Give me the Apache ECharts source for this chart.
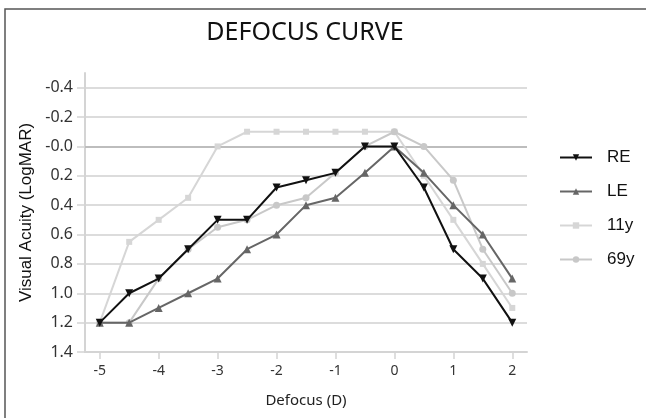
<!DOCTYPE html>
<html>
<head>
<meta charset="utf-8">
<script src="https://cdn.jsdelivr.net/npm/echarts@6/dist/echarts.min.js"></script>
<style>html,body{margin:0;padding:0;background:#fff;}#c{width:646px;height:418px;}</style>
</head>
<body>
<div id="c"></div>
<script>
const defocus = [-5, -4.5, -4, -3.5, -3, -2.5, -2, -1.5, -1, -0.5, 0, 0.5, 1, 1.5, 2];
const RE  = [1.2, 1.0, 0.9, 0.7, 0.5, 0.5, 0.28, 0.23, 0.18, 0.0, 0.0, 0.28, 0.7, 0.9, 1.2];
const LE  = [1.2, 1.2, 1.1, 1.0, 0.9, 0.7, 0.6, 0.4, 0.35, 0.18, 0.0, 0.18, 0.4, 0.6, 0.9];
const y11 = [1.2, 0.65, 0.5, 0.35, 0.0, -0.1, -0.1, -0.1, -0.1, -0.1, -0.1, 0.2, 0.5, 0.8, 1.1];
const y69 = [1.2, 1.2, 0.9, 0.7, 0.55, 0.5, 0.4, 0.35, 0.18, 0.0, -0.1, 0.0, 0.23, 0.7, 1.0];
const xTickValues = [-5, -4, -3, -2, -1, 0, 1, 2];
const yTickValues = [-0.4, -0.2, 0, 0.2, 0.4, 0.6, 0.8, 1.0, 1.2, 1.4];
const yTickLabels = ['-0.4', '-0.2', '-0.0', '0.2', '0.4', '0.6', '0.8', '1.0', '1.2', '1.4'];
const seriesNames = ['RE', 'LE', '11y', '69y'];

function pairs(vals) { return defocus.map((x, i) => [x, vals[i]]); }

const chart = echarts.init(document.getElementById('c'), null, {renderer: 'canvas'});
chart.setOption({
  animation: false,
  backgroundColor: '#fff',
  title: {
    text: 'DEFOCUS CURVE', left: 300, top: 15, textAlign: 'center',
    textStyle: {fontFamily: 'Noto Sans', fontSize: 25, fontWeight: 'normal', color: '#111'}
  },
  graphic: [{
    type: 'rect', shape: {x: 5, y: 9, width: 800, height: 600},
    style: {fill: 'none', stroke: '#555', lineWidth: 1.5}, silent: true, z: 100
  }],
  legend: {
    data: seriesNames, orient: 'vertical', left: 554, top: 144,
    itemWidth: 32, itemHeight: 8, itemGap: 17,
    textStyle: {fontFamily: 'Liberation Sans', fontSize: 17, color: '#111', padding: [0, 0, 0, 10]}
  },
  grid: {left: 85, right: 119, top: 73, bottom: 66},
  xAxis: {
    type: 'value', min: -5.25, max: 2.25,
    name: 'Defocus (D)', nameLocation: 'middle', nameGap: 41,
    nameTextStyle: {fontFamily: 'Noto Sans', fontSize: 15, color: '#222'},
    axisLine: {onZero: false, lineStyle: {color: '#d4d4d4', width: 2}},
    axisTick: {show: true, customValues: xTickValues, length: 7, lineStyle: {color: '#d4d4d4', width: 1.5}},
    axisLabel: {customValues: xTickValues, fontFamily: 'Noto Sans', fontSize: 14, color: '#333', margin: 12},
    splitLine: {show: false}
  },
  yAxis: {
    type: 'value', min: -0.5, max: 1.4, inverse: true,
    name: 'Visual Acuity (LogMAR)', nameLocation: 'middle', nameGap: 45,
    nameTextStyle: {fontFamily: 'Liberation Sans', fontSize: 17, color: '#111'},
    axisLine: {show: true, onZero: false, lineStyle: {color: '#d4d4d4', width: 2}},
    axisTick: {show: true, customValues: yTickValues, length: 8, lineStyle: {color: '#d4d4d4', width: 1.5}},
    axisLabel: {
      customValues: yTickValues, fontFamily: 'Noto Sans', fontSize: 16, color: '#333', margin: 12,
      formatter: v => { const i = yTickValues.findIndex(t => Math.abs(t - v) < 1e-6); return i >= 0 ? yTickLabels[i] : ''; }
    },
    splitLine: {show: true, lineStyle: {color: '#dcdcdc', width: 2}}
  },
  series: [
    {
      name: 'RE', type: 'line', data: pairs(RE), z: 6,
      symbol: 'triangle', symbolRotate: 180, symbolSize: 8,
      lineStyle: {color: '#111', width: 2}, itemStyle: {color: '#111'},
      markLine: {silent: true, symbol: 'none', label: {show: false},
        lineStyle: {color: '#bdbdbd', width: 2, type: 'solid'}, data: [{yAxis: 0}], z: 1}
    },
    {
      name: 'LE', type: 'line', data: pairs(LE), z: 5,
      symbol: 'triangle', symbolSize: 8,
      lineStyle: {color: '#666', width: 2}, itemStyle: {color: '#666'}
    },
    {
      name: '11y', type: 'line', data: pairs(y11), z: 3,
      symbol: 'rect', symbolSize: 6,
      lineStyle: {color: '#d6d6d6', width: 2}, itemStyle: {color: '#d6d6d6'}
    },
    {
      name: '69y', type: 'line', data: pairs(y69), z: 4,
      symbol: 'circle', symbolSize: 7,
      lineStyle: {color: '#c8c8c8', width: 2}, itemStyle: {color: '#c8c8c8'}
    }
  ]
});
</script>
</body>
</html>
